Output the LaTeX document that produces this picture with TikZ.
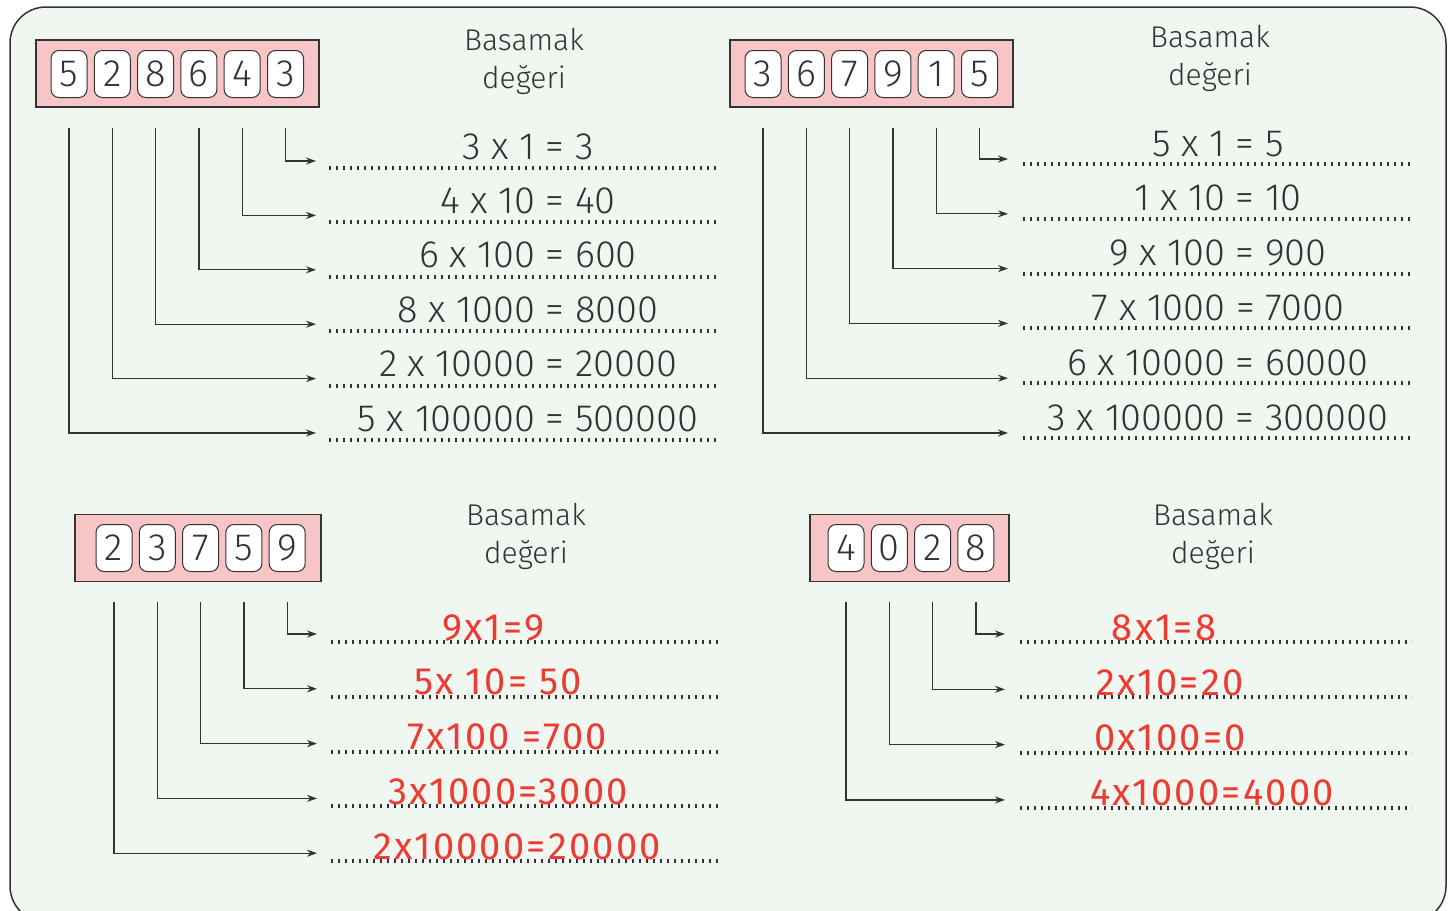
\documentclass[tikz,border=0pt]{standalone}
\usepackage{fontspec}
\setmainfont{Fira Sans}[UprightFont={* Light}]
\newfontfamily\handfont{Fira Sans}[LetterSpace=6]
\usetikzlibrary{arrows.meta}
\definecolor{panelbg}{HTML}{F0F6F0}
\definecolor{boxpink}{HTML}{F7C5C5}
\definecolor{inkgray}{HTML}{333333}
\definecolor{handred}{HTML}{EE3B32}

\begin{document}
\begin{tikzpicture}[x=1pt,y=-1pt,
	every node/.style={inner sep=0pt,anchor=center},
	frame/.style={draw=inkgray,fill=panelbg,line width=1.5pt,rounded corners=36pt},
	placebox/.style={draw=inkgray,fill=boxpink,line width=1.2pt,minimum height=67pt},
	digitbox/.style={draw=inkgray,fill=white,rounded corners=8pt,line width=1pt,minimum width=36pt,minimum height=47pt,text=inkgray,font=\fontsize{38}{38}\selectfont},
	header/.style={font=\fontsize{30}{38}\selectfont,align=center,text=inkgray},
	branch/.style={draw=inkgray,line width=1.3pt,-{Stealth[length=10pt,width=7pt]}},
	writeline/.style={draw=inkgray,line width=4pt,dash pattern=on 2.2pt off 4.8pt},
	answer/.style={font=\fontsize{38}{38}\selectfont,text=inkgray,anchor=base},
	handanswer/.style={font=\handfont\fontsize{38}{38}\selectfont,text=handred,anchor=base}]

	\useasboundingbox (0,0) rectangle (1453,910);
	\draw[frame] (10,7) rectangle (1446,922);

	% 528643
	\node[placebox,minimum width=283pt] (boxA) at (177.5,73.5) {};
	\foreach \d [count=\i] in {5,2,8,6,4,3}
		\node[digitbox] (a\i) at ({69+43.3*(\i-1)},74) {\d};
	\node[header] (headA) at (524,61) {Basamak\\değeri};
	\foreach \t [count=\k from 0] in {3 x 1 = 3, 4 x 10 = 40, 6 x 100 = 600, 8 x 1000 = 8000, 2 x 10000 = 20000, 5 x 100000 = 500000}{
		\pgfmathtruncatemacro\i{6-\k}
		\coordinate (ta\k) at (316,{161+54.4*\k});
		\draw[branch] ([yshift=-29.5pt]a\i.south) |- (ta\k);
		\draw[writeline] ([xshift=13pt,yshift=-7pt]ta\k) -- ++(391,0);
		\node[answer] (ansa\k) at ([xshift=212pt,yshift=2pt]ta\k) {\t};
	}

	% 367915
	\node[placebox,minimum width=283pt] (boxB) at (871.5,73.5) {};
	\foreach \d [count=\i] in {3,6,7,9,1,5}
		\node[digitbox] (b\i) at ({763+43.3*(\i-1)},74) {\d};
	\node[header] (headB) at (1210,58) {Basamak\\değeri};
	\foreach \t [count=\k from 0] in {5 x 1 = 5, 1 x 10 = 10, 9 x 100 = 900, 7 x 1000 = 7000, 6 x 10000 = 60000, 3 x 100000 = 300000}{
		\pgfmathtruncatemacro\i{6-\k}
		\coordinate (tb\k) at (1008,{159+54.8*\k});
		\draw[branch] ([yshift=-29.5pt]b\i.south) |- (tb\k);
		\draw[writeline] ([xshift=15pt,yshift=-5pt]tb\k) -- ++(391,0);
		\node[answer] (ansb\k) at ([xshift=210pt,yshift=3pt]tb\k) {\t};
	}

	% 23759
	\node[placebox,minimum width=246pt] (boxC) at (198,548) {};
	\foreach \d [count=\i] in {2,3,7,5,9}
		\node[digitbox] (c\i) at ({114+43.3*(\i-1)},548) {\d};
	\node[header] (headC) at (526,536) {Basamak\\değeri};
	\foreach \t/\cx [count=\k from 0] in {9x1=9/493, 5x 10= 50/498, 7x100 =700/507, 3x1000=3000/508, 2x10000=20000/517}{
		\pgfmathtruncatemacro\i{5-\k}
		\coordinate (tc\k) at (317,{634+54.8*\k});
		\draw[branch] ([yshift=-29.5pt]c\i.south) |- (tc\k);
		\draw[writeline] ([xshift=14pt,yshift=-8pt]tc\k) -- ++(391,0);
		\node[handanswer] (ansc\k) at ([yshift=-6pt]tc\k -| \cx,0) {\t};
	}

	% 4028
	\node[placebox,minimum width=199pt] (boxD) at (909.5,548) {};
	\foreach \d [count=\i] in {4,0,2,8}
		\node[digitbox] (d\i) at ({846+43.3*(\i-1)},548) {\d};
	\node[header] (headD) at (1213,536) {Basamak\\değeri};
	\foreach \t/\cx [count=\k from 0] in {8x1=8/1164, 2x10=20/1170, 0x100=0/1170, 4x1000=4000/1212}{
		\pgfmathtruncatemacro\i{4-\k}
		\coordinate (td\k) at (1005,{634+55.3*\k});
		\draw[branch] ([yshift=-29.5pt]d\i.south) |- (td\k);
		\draw[writeline] ([xshift=15pt,yshift=-8pt]td\k) -- ++(392,0);
		\node[handanswer] (ansd\k) at ([yshift=-6pt]td\k -| \cx,0) {\t};
	}
\end{tikzpicture}
\end{document}
